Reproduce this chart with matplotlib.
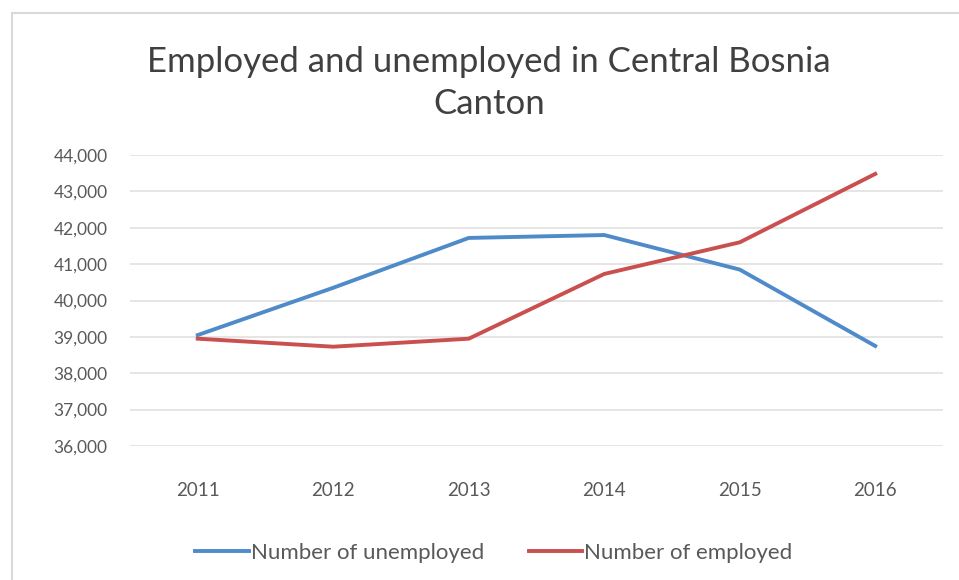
import matplotlib.pyplot as plt
from matplotlib.patches import Rectangle

# dados
anos = ["2011", "2012", "2013", "2014", "2015", "2016"]
desempregados = [39050, 40350, 41720, 41800, 40850, 38750]
empregados = [38950, 38730, 38950, 40730, 41600, 43480]

plt.rcParams['font.family'] = ['Lato', 'DejaVu Sans']

fig = plt.figure(figsize=(9.59, 5.8), dpi=100)
# moldura do gráfico (estilo Excel)
fig.patches.append(Rectangle((12 / 959, -0.05), 1.0, 1 - 13 / 580 + 0.05,
                             transform=fig.transFigure, fill=False,
                             edgecolor='#d9d9d9', linewidth=1.5))

ax = fig.add_axes([130 / 959, 1 - 446 / 580, 813 / 959, 291 / 580])
x = range(len(anos))
ax.plot(x, desempregados, color='#4f8bc9', linewidth=2.8, label='Number of unemployed')
ax.plot(x, empregados, color='#c9504f', linewidth=2.8, label='Number of employed')

ax.set_xlim(-0.5, 5.5)
ax.set_ylim(36000, 44000)
ax.set_yticks(range(36000, 44001, 1000))
ax.yaxis.set_major_formatter(plt.FuncFormatter(lambda v, p: f"{int(v):,}"))
ax.set_xticks(list(x))
ax.set_xticklabels(anos)
ax.grid(axis='y', color='#e3e3e3', linewidth=1.3)
ax.set_axisbelow(True)
for s in ax.spines.values():
    s.set_visible(False)
ax.tick_params(length=0, labelsize=12.5, colors='#595959', pad=16)
ax.tick_params(axis='x', labelsize=13.5, pad=26)

fig.text(0.51, 1 - 62 / 580, "Employed and unemployed in Central Bosnia", ha='center',
         va='center', fontsize=25, color='#404040')
fig.text(0.51, 1 - 104 / 580, "Canton", ha='center', va='center', fontsize=25, color='#404040')

fig.legend(loc='center', bbox_to_anchor=(0.515, 1 - 553 / 580), ncol=2, frameon=False,
           fontsize=16, handlelength=2.4, handletextpad=0.1, columnspacing=2,
           labelcolor='#595959')

fig.savefig('out.png', dpi=100)
